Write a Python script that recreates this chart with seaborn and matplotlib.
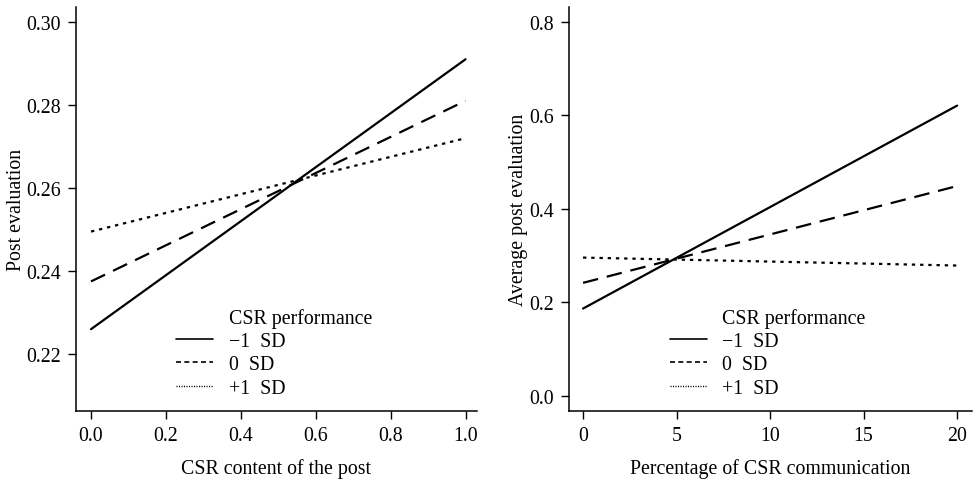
import numpy as np
import pandas as pd
import matplotlib
matplotlib.use("Agg")
import matplotlib.pyplot as plt
import seaborn as sns
from matplotlib.lines import Line2D

sns.set_theme(style="ticks")
plt.rcParams['font.family'] = ['Liberation Serif', 'DejaVu Serif']
plt.rcParams['text.color'] = 'black'
plt.rcParams['axes.labelcolor'] = 'black'

groups = ["\u22121  SD", "0  SD", "+1  SD"]

# Left panel: CSR content of the post
left_x = [0.0, 1.0]
left_minus1 = [0.226, 0.291]
left_zero = [0.2375, 0.281]
left_plus1 = [0.2495, 0.272]

# Right panel: Percentage of CSR communication
right_x = [0, 20]
right_minus1 = [0.187, 0.621]
right_zero = [0.242, 0.449]
right_plus1 = [0.296, 0.279]

left_ticks = [0.0, 0.2, 0.4, 0.6, 0.8, 1.0]
left_yticks = [0.22, 0.24, 0.26, 0.28, 0.30]
right_ticks = [0, 5, 10, 15, 20]
right_yticks = [0.0, 0.2, 0.4, 0.6, 0.8]


def long_df(x, series):
    rows = []
    for g, vals in zip(groups, series):
        for xi, yi in zip(x, vals):
            rows.append({"x": xi, "y": yi, "group": g})
    return pd.DataFrame(rows)


df_left = long_df(left_x, [left_minus1, left_zero, left_plus1])
df_right = long_df(right_x, [right_minus1, right_zero, right_plus1])

dashes = {groups[0]: "", groups[1]: (7, 4), groups[2]: (1.5, 2.2)}

FS = 14.3

fig = plt.figure(figsize=(9.75, 4.81), dpi=100)
ax1 = fig.add_axes([0.078, 0.1435, 0.411, 0.84])
ax2 = fig.add_axes([0.5836, 0.1435, 0.4134, 0.84])

for ax, df in [(ax1, df_left), (ax2, df_right)]:
    sns.lineplot(data=df, x="x", y="y", style="group", style_order=groups,
                 dashes=dashes, color="black", linewidth=1.6, ax=ax, legend=False)

ax1.set_xlim(-0.04, 1.03)
ax1.set_ylim(0.2063, 0.3036)
ax1.set_xticks(left_ticks)
ax1.set_xticklabels([f"{t:.1f}" for t in left_ticks])
ax1.set_yticks(left_yticks)
ax1.set_yticklabels([f"{t:.2f}" for t in left_yticks])
ax1.set_xlabel("CSR content of the post", fontsize=FS, labelpad=9)
ax1.set_ylabel("Post evaluation", fontsize=FS, labelpad=0)

ax2.set_xlim(-0.75, 20.8)
ax2.set_ylim(-0.032, 0.832)
ax2.set_xticks(right_ticks)
ax2.set_xticklabels([str(t) for t in right_ticks])
ax2.set_yticks(right_yticks)
ax2.set_yticklabels([f"{t:.1f}" for t in right_yticks])
ax2.set_xlabel("Percentage of CSR communication", fontsize=FS, labelpad=9)
ax2.set_ylabel("Average post evaluation", fontsize=FS, labelpad=1)

for ax in (ax1, ax2):
    sns.despine(ax=ax)
    for s in ("left", "bottom"):
        ax.spines[s].set_linewidth(1.1)
        ax.spines[s].set_color("black")
    ax.tick_params(axis="both", direction="out", length=6, width=1.0,
                   labelsize=FS, colors="black", pad=5)
    handles = [Line2D([], [], linestyle="none"),
               Line2D([], [], color="black", lw=1.2, linestyle="-"),
               Line2D([], [], color="black", lw=1.2, dashes=(3, 2)),
               Line2D([], [], color="black", lw=1.0, dashes=(0.8, 1.0))]
    labels = ["CSR performance"] + groups
    ax.legend(handles, labels, loc="lower left", bbox_to_anchor=(0.25, 0.033),
              frameon=False, fontsize=FS, handlelength=1.85, handletextpad=0.8,
              labelspacing=0.22, borderaxespad=0, borderpad=0)

fig.savefig("out.png", dpi=100)
